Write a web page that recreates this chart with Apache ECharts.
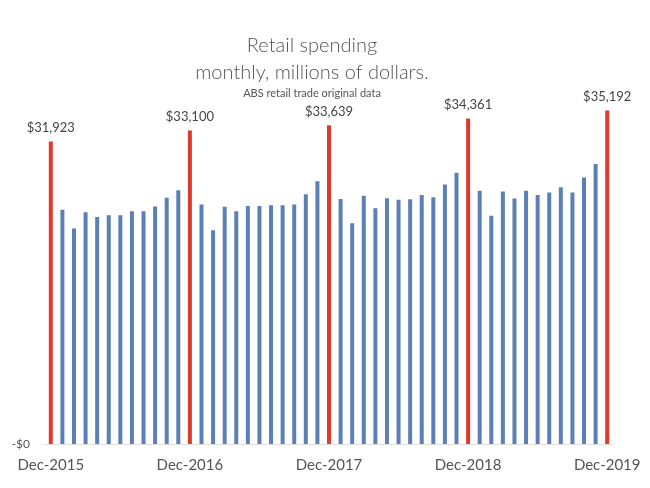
<!DOCTYPE html>
<html>
<head>
<meta charset="utf-8">
<script src="https://cdn.jsdelivr.net/npm/echarts@6/dist/echarts.min.js"></script>
<style>html,body{margin:0;padding:0;background:#fff}#c{width:650px;height:488px}</style>
</head>
<body>
<div id="c"></div>
<script>
const categories = [
  'Dec-2015',
  'Jan-2016','Feb-2016','Mar-2016','Apr-2016','May-2016','Jun-2016','Jul-2016','Aug-2016','Sep-2016','Oct-2016','Nov-2016','Dec-2016',
  'Jan-2017','Feb-2017','Mar-2017','Apr-2017','May-2017','Jun-2017','Jul-2017','Aug-2017','Sep-2017','Oct-2017','Nov-2017','Dec-2017',
  'Jan-2018','Feb-2018','Mar-2018','Apr-2018','May-2018','Jun-2018','Jul-2018','Aug-2018','Sep-2018','Oct-2018','Nov-2018','Dec-2018',
  'Jan-2019','Feb-2019','Mar-2019','Apr-2019','May-2019','Jun-2019','Jul-2019','Aug-2019','Sep-2019','Oct-2019','Nov-2019','Dec-2019'
];
const spending = [
  31923,
  24710,22735,24466,23970,24150,24150,24570,24570,25060,25980,26790,33100,
  25270,22565,25030,24570,25130,25130,25200,25200,25270,26360,27740,33639,
  25870,23300,26190,24890,25940,25770,25840,26290,26050,27380,28620,34361,
  26720,24080,26640,25900,26720,26290,26540,27110,26540,28120,29540,35192
];
const xTickLabels = ['Dec-2015','Dec-2016','Dec-2017','Dec-2018','Dec-2019'];
const titleLines = ['Retail spending','monthly, millions of dollars.','ABS retail trade original data'];

const RED = '#e03a2c', BLUE = '#5b80b6';
const isDec = c => c.startsWith('Dec');
const fmt = v => '$' + v.toLocaleString('en-US');

const chart = echarts.init(document.getElementById('c'), null, {renderer:'canvas'});
chart.setOption({
  animation: false,
  backgroundColor: '#fff',
  title: [
    {text: titleLines[0], left: 307, top: 31, textAlign: 'center',
     textStyle: {fontFamily: 'Lato', fontWeight: 300, fontSize: 20, color: '#555'}},
    {text: titleLines[1], left: 307, top: 58, textAlign: 'center',
     textStyle: {fontFamily: 'Lato', fontWeight: 300, fontSize: 20, color: '#555'}},
    {text: titleLines[2], left: 307, top: 83, textAlign: 'center',
     textStyle: {fontFamily: 'Lato', fontWeight: 400, fontSize: 11, color: '#555'}}
  ],
  grid: {left: 45, right: 37, top: 65, bottom: 44, containLabel: false},
  xAxis: {
    type: 'category',
    data: categories,
    axisTick: {show: false},
    axisLine: {show: true, lineStyle: {color: '#e0e0e0', width: 1}},
    axisLabel: {
      interval: 0,
      formatter: v => xTickLabels.includes(v) ? v : '',
      fontFamily: 'Lato', fontSize: 15, color: '#555', margin: 14
    }
  },
  yAxis: {
    type: 'value',
    min: 0, max: 40000, interval: 40000,
    splitLine: {show: false},
    axisLine: {show: false},
    axisTick: {show: false},
    axisLabel: {formatter: v => v === 0 ? '-$0' : '', fontFamily: 'Lato', fontSize: 12, color: '#555', margin: 15}
  },
  series: [{
    type: 'bar',
    barWidth: 4,
    data: spending.map((v, i) => ({
      value: v,
      itemStyle: {color: isDec(categories[i]) ? RED : BLUE},
      label: {show: isDec(categories[i])}
    })),
    label: {
      position: 'top', distance: 7,
      formatter: p => fmt(p.value),
      fontFamily: 'Lato', fontSize: 13, color: '#444'
    }
  }]
});
</script>
</body>
</html>
